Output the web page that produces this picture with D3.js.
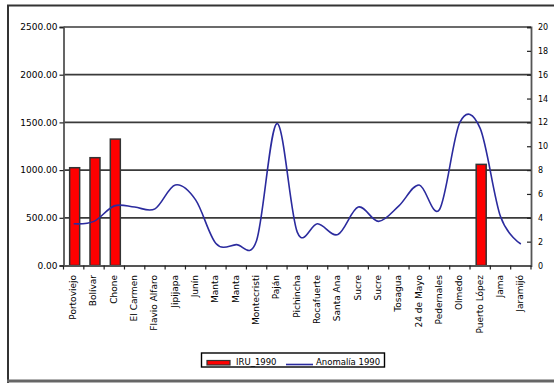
<!DOCTYPE html>
<html>
<head>
<meta charset="utf-8">
<script src="https://cdn.jsdelivr.net/npm/d3@7"></script>
<style>
  html, body { margin: 0; padding: 0; background: #fff; }
  svg { display: block; }
  text { font-family: "DejaVu Sans", sans-serif; fill: #000; }
</style>
</head>
<body>
<svg id="chart" width="554" height="383"></svg>
<script>
// Cantones de Manabí
const cantones = ["Portoviejo", "Bolívar", "Chone", "El Carmen", "Flavio Alfaro", "Jipijapa",
  "Junín", "Manta", "Manta", "Montecristi", "Paján", "Pichincha", "Rocafuerte", "Santa Ana",
  "Sucre", "Sucre", "Tosagua", "24 de Mayo", "Pedernales", "Olmedo", "Puerto López", "Jama", "Jaramijó"];

// IRU_1990 (left axis) — only some cantons have a value
const iru1990 = [1025, 1130, 1325, null, null, null, null, null, null, null, null, null, null, null,
  null, null, null, null, null, null, 1060, null, null];

// Anomalía 1990 (right axis)
const anomalia1990 = [3.5, 3.7, 5.0, 4.9, 4.75, 6.75, 5.5, 1.85, 1.75, 2.1, 11.9, 2.8, 3.5, 2.6,
  4.9, 3.7, 5.0, 6.75, 4.7, 12.0, 11.5, 4.1, 1.8];

const leftTicks = [0, 500, 1000, 1500, 2000, 2500];
const rightTicks = [0, 2, 4, 6, 8, 10, 12, 14, 16, 18, 20];
const legendLabels = ["IRU_1990", "Anomalía 1990"];

const svg = d3.select("#chart");
const plot = { left: 63.5, right: 531, top: 27, bottom: 265.5 };

// Chart frame
svg.append("path")
  .attr("d", "M8,383 V5.5 H560")
  .attr("fill", "none").attr("stroke", "#333").attr("stroke-width", 2);
svg.append("line")
  .attr("x1", 7).attr("x2", 554).attr("y1", 381).attr("y2", 381)
  .attr("stroke", "#666").attr("stroke-width", 3);

const x = d3.scaleBand().domain(d3.range(cantones.length)).range([plot.left, plot.right]).padding(0);
const yL = d3.scaleLinear().domain([0, 2500]).range([plot.bottom, plot.top]);
const yR = d3.scaleLinear().domain([0, 20]).range([plot.bottom, plot.top]);

// Gridlines at the left-axis ticks
svg.append("g").selectAll("line")
  .data(leftTicks.filter(d => d > 0))
  .join("line")
  .attr("x1", plot.left).attr("x2", plot.right)
  .attr("y1", d => yL(d)).attr("y2", d => yL(d))
  .attr("stroke", "#3a3a3a").attr("stroke-width", 1.7);

// Bars
const barW = 10;
svg.append("g").selectAll("rect")
  .data(iru1990.map((v, i) => ({ v, i })).filter(d => d.v != null))
  .join("rect")
  .attr("x", d => x(d.i) + x.bandwidth() / 2 - barW / 2 + 1)
  .attr("width", barW)
  .attr("y", d => yL(d.v))
  .attr("height", d => yL(0) - yL(d.v))
  .attr("fill", "#ff0000")
  .attr("stroke", "#333").attr("stroke-width", 1.5);

// Smoothed anomaly line
const line = d3.line()
  .x((d, i) => x(i) + x.bandwidth() / 2)
  .y(d => yR(d))
  .curve(d3.curveCatmullRom.alpha(0));
svg.append("path")
  .datum(anomalia1990)
  .attr("d", line)
  .attr("fill", "none")
  .attr("stroke", "#2b2b9e")
  .attr("stroke-width", 1.6);

// Left axis
const axL = d3.axisLeft(yL).tickValues(leftTicks).tickFormat(d3.format(".2f")).tickSize(4).tickPadding(2);
const gL = svg.append("g").attr("transform", `translate(${plot.left},0)`).call(axL);
gL.select(".domain").attr("stroke", "#555").attr("stroke-width", 1.8);
gL.selectAll(".tick line").attr("stroke", "#222").attr("stroke-width", 1.2);
gL.selectAll("text").style("font-size", "9px").attr("fill", "#000");

// Right axis (ticks pointing inward)
const axR = d3.axisRight(yR).tickValues(rightTicks).tickSize(-4).tickPadding(7);
const gR = svg.append("g").attr("transform", `translate(${plot.right},0)`).call(axR);
gR.select(".domain").attr("stroke", "#555").attr("stroke-width", 1.8);
gR.selectAll(".tick line").attr("stroke", "#222").attr("stroke-width", 1.2);
gR.selectAll("text").style("font-size", "8px").attr("fill", "#000");

// Category axis
const axX = d3.axisBottom(x).tickValues([]).tickSizeOuter(0);
const gX = svg.append("g").attr("transform", `translate(0,${plot.bottom})`).call(axX);
gX.select(".domain").attr("stroke", "#555").attr("stroke-width", 1.8);
gX.selectAll("line.sep")
  .data(d3.range(cantones.length + 1))
  .join("line").attr("class", "sep")
  .attr("x1", i => plot.left + i * x.step()).attr("x2", i => plot.left + i * x.step())
  .attr("y1", 0).attr("y2", 4)
  .attr("stroke", "#222").attr("stroke-width", 1.2);
gX.selectAll("text.cat")
  .data(cantones)
  .join("text").attr("class", "cat")
  .attr("transform", (d, i) => `translate(${x(i) + x.bandwidth() / 2 + 2.5},${9.5}) rotate(-90)`)
  .attr("text-anchor", "end")
  .style("font-size", "9px")
  .text(d => d);

// Legend
const lg = svg.append("g");
lg.append("rect")
  .attr("x", 201.5).attr("y", 353).attr("width", 183).attr("height", 14)
  .attr("fill", "#fff").attr("stroke", "#000").attr("stroke-width", 1.4);
lg.append("rect")
  .attr("x", 207).attr("y", 360.5).attr("width", 23).attr("height", 4.5)
  .attr("fill", "#ff0000").attr("stroke", "#333").attr("stroke-width", 1.2);
lg.append("text").attr("x", 236).attr("y", 364.5)
  .style("font-size", "8.5px").text(legendLabels[0]);
lg.append("line")
  .attr("x1", 286).attr("x2", 313).attr("y1", 364.5).attr("y2", 364.5)
  .attr("stroke", "#2b2b9e").attr("stroke-width", 1.6);
lg.append("text").attr("x", 316).attr("y", 364.5)
  .style("font-size", "8.5px").text(legendLabels[1]);
</script>
</body>
</html>
